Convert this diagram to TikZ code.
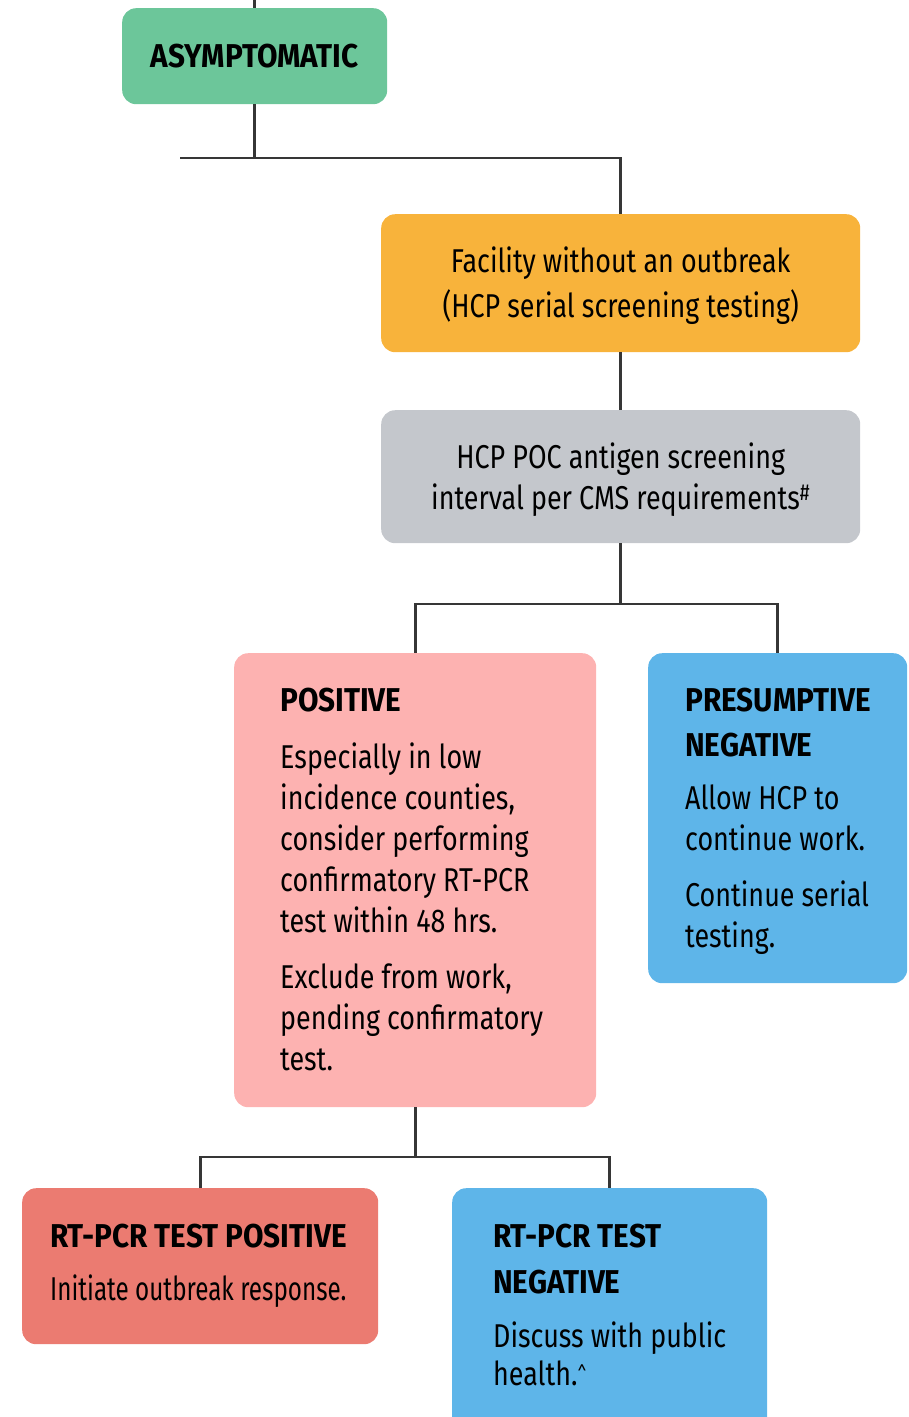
\documentclass[tikz,border=0pt]{standalone}
\usepackage{fontspec}
\setmainfont{Fira Sans}[FakeStretch=0.815, BoldFeatures={FakeStretch=0.9}]
\newfontfamily\narrowfont{Fira Sans}[FakeStretch=0.735]
\definecolor{cgreen}{HTML}{6CC69A}
\definecolor{corange}{HTML}{F8B33B}
\definecolor{cgray}{HTML}{C4C7CC}
\definecolor{cpink}{HTML}{FDB2B1}
\definecolor{cblue}{HTML}{5EB5E9}
\definecolor{cred}{HTML}{EB7B71}
\definecolor{cline}{HTML}{363636}
\begin{document}
\begin{tikzpicture}[x=1pt,y=-1pt,
  box/.style={rounded corners=14pt, inner sep=0pt, draw=none, anchor=north west},
  ctext/.style={align=center, font=\fontsize{33}{41}\selectfont},
  ltext/.style={anchor=north west, inner sep=0pt, align=left, font=\fontsize{33}{41}\selectfont},
  conn/.style={draw=cline, line width=2.6pt}]
\useasboundingbox (0,0) rectangle (909,1417);
\clip (0,0) rectangle (909,1417);
% boxes
\node[box, fill=cgreen, minimum width=265pt, minimum height=96pt] (asym) at (122,8) {};
\node[ctext] (asymt) at (asym.center) {\bfseries ASYMPTOMATIC};
\node[box, fill=corange, minimum width=479pt, minimum height=138pt] (orange) at (381,214) {};
\node[ctext, font=\fontsize{33}{45}\selectfont] (oranget) at ([yshift=-2.5pt]orange.center) {Facility without an outbreak\\(HCP serial screening testing)};
\node[box, fill=cgray, minimum width=479pt, minimum height=133pt] (gray) at (381,410) {};
\node[ctext] (grayt) at ([yshift=-3pt]gray.center) {HCP POC antigen screening\\interval per CMS requirements\textsuperscript{\#}};
\node[box, fill=cpink, minimum width=362pt, minimum height=454pt] (pink) at (234,653) {};
\node[ltext] (pinkt) at (280,688) {\textbf{POSITIVE}\\[16pt]
Especially in low\\incidence counties,\\consider performing\\confirmatory RT-PCR\\test within 48 hrs.\\[15pt]
Exclude from work,\\pending confirmatory\\test.};
\node[box, fill=cblue, minimum width=259pt, minimum height=330pt] (blueR) at (648,653) {};
\node[ltext] (blueRt) at (685,688) {\textbf{PRESUMPTIVE}\\[4pt]\textbf{NEGATIVE}\\[12pt]
Allow HCP to\\continue work.\\[15pt]
Continue serial\\testing.};
\node[box, fill=cred, minimum width=356pt, minimum height=156pt] (red) at (22,1188) {};
\node[ltext] (redt) at (50,1223.5) {\textbf{RT-PCR TEST POSITIVE}\\[12pt]{\narrowfont Initiate outbreak response.}};
\node[box, fill=cblue, minimum width=315pt, minimum height=280pt] (blueB) at (452,1188) {};
\node[ltext] (blueBt) at (493,1223.5) {\textbf{RT-PCR TEST}\\[5pt]\textbf{NEGATIVE}\\[13pt]
Discuss with public\\[-3pt]health.{\fontsize{20}{20}\selectfont\raisebox{4pt}{\textasciicircum}}};
% connectors
\coordinate (top) at (asym.north |- 0,0);
\coordinate (j1l) at (180,158);
\coordinate (j2) at (orange.center |- 0,604);
\coordinate (j3) at (pink.center |- 0,1157);
\draw[conn] (top) -- (asym.north);
\draw[conn] (asym.south) |- (j1l);
\draw[conn] (j1l) -| (orange.north);
\draw[conn] (orange.south) -- (gray.north);
\draw[conn] (gray.south) -- (j2);
\draw[conn] (j2) -| (pink.north);
\draw[conn] (j2) -| (blueR.north);
\draw[conn] (pink.south) -- (j3);
\draw[conn] (j3) -| (red.north);
\draw[conn] (j3) -| (blueB.north);
\end{tikzpicture}
\end{document}
